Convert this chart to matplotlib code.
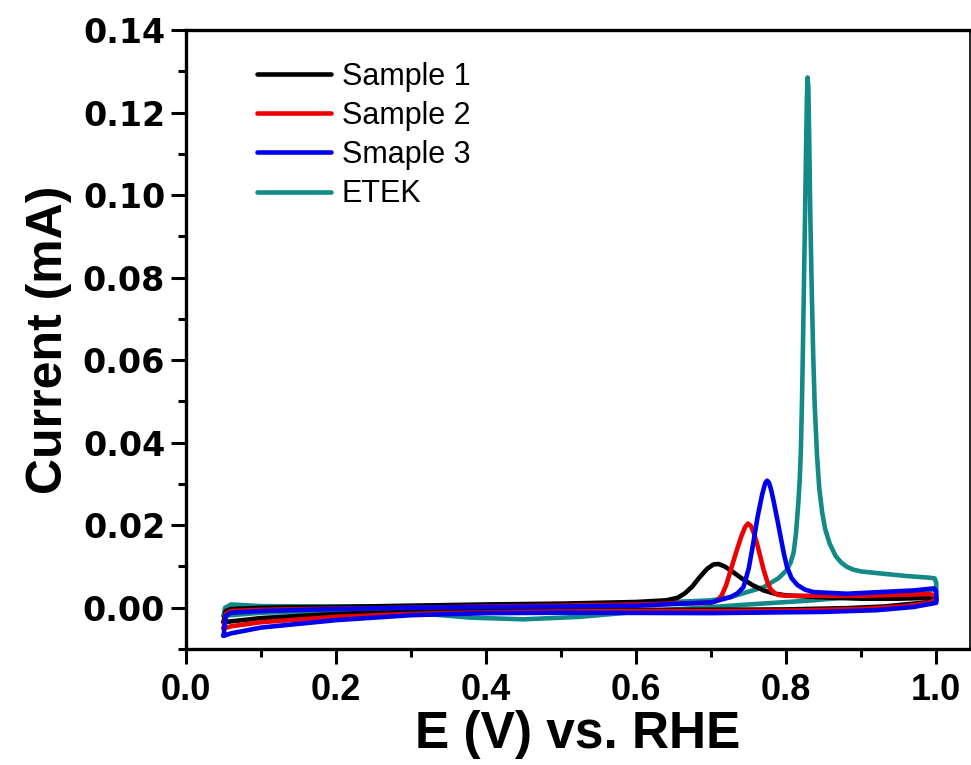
import matplotlib
matplotlib.use("Agg")
import matplotlib.pyplot as plt
from matplotlib.ticker import MultipleLocator

# Sample 1 (black): forward sweep then reverse sweep
s1_x_up = [0.05, 0.053, 0.06, 0.1, 0.2, 0.3, 0.4, 0.5, 0.6, 0.64, 0.655, 0.665, 0.675, 0.685,
           0.695, 0.703, 0.71, 0.718, 0.728, 0.74, 0.755, 0.77, 0.785, 0.8, 0.85, 0.9,
           0.95, 0.99, 1.0]
s1_y_up = [-0.0035, -0.0008, -0.0003, 0.0, 0.0002, 0.0005, 0.0008, 0.001, 0.0014, 0.0018,
           0.0024, 0.0035, 0.0052, 0.0075, 0.0095, 0.0105, 0.0106, 0.0100, 0.0088, 0.0072,
           0.0055, 0.0042, 0.0034, 0.0030, 0.0025, 0.0022, 0.0022, 0.0024, 0.0020]
s1_x_dn = [1.0, 0.99, 0.97, 0.93, 0.88, 0.8, 0.7, 0.6, 0.5, 0.4, 0.3, 0.2, 0.1, 0.06, 0.05]
s1_y_dn = [0.0018, 0.0013, 0.001, 0.0003, -0.0001, -0.0004, -0.0005, -0.0005, -0.0005,
           -0.0006, -0.0009, -0.0015, -0.0025, -0.0033, -0.0035]

# Sample 2 (red)
s2_x_up = [0.05, 0.053, 0.06, 0.1, 0.2, 0.3, 0.4, 0.5, 0.6, 0.7, 0.708, 0.714, 0.72, 0.726,
           0.733, 0.74, 0.745, 0.749, 0.753, 0.757, 0.761, 0.766, 0.77, 0.775, 0.779,
           0.785, 0.79, 0.8, 0.9, 0.99, 1.0]
s2_y_up = [-0.005, -0.0015, -0.0008, -0.0005, -0.0002, 0.0, 0.0003, 0.0005, 0.0008, 0.0012,
           0.0017, 0.003, 0.0055, 0.0091, 0.0133, 0.0172, 0.0195, 0.0204, 0.0198, 0.018,
           0.0156, 0.012, 0.0091, 0.0062, 0.0045, 0.0035, 0.0031, 0.0029, 0.0029, 0.0033,
           0.0030]
s2_x_dn = [1.0, 0.99, 0.96, 0.9, 0.8, 0.7, 0.6, 0.5, 0.4, 0.3, 0.2, 0.1, 0.06, 0.05]
s2_y_dn = [0.002, 0.0012, 0.0004, -0.0003, -0.0007, -0.0008, -0.0008, -0.0009, -0.0011,
           -0.0015, -0.0022, -0.0035, -0.0045, -0.005]

# Smaple 3 (blue)
s3_x_up = [0.05, 0.053, 0.06, 0.1, 0.2, 0.3, 0.4, 0.5, 0.6, 0.7, 0.726, 0.735, 0.743, 0.75,
           0.756, 0.762, 0.768, 0.772, 0.7745, 0.777, 0.78, 0.783, 0.788, 0.7925, 0.797,
           0.801, 0.807, 0.815, 0.825, 0.836, 0.881, 0.97, 0.997, 1.0]
s3_y_up = [-0.0068, -0.002, -0.0012, -0.0008, -0.0003, 0.0, 0.0002, 0.0003, 0.0005, 0.0013,
           0.0026, 0.0035, 0.005, 0.0095, 0.0156, 0.0222, 0.0275, 0.0302, 0.0308, 0.0303,
           0.0285, 0.026, 0.0215, 0.0172, 0.013, 0.0099, 0.0072, 0.0055, 0.0044, 0.0038,
           0.0034, 0.0042, 0.0047, 0.004]
s3_x_dn = [1.0, 0.97, 0.92, 0.85, 0.7, 0.5, 0.4, 0.3, 0.2, 0.1, 0.06, 0.05]
s3_y_dn = [0.0012, 0.0002, -0.0006, -0.001, -0.0013, -0.0012, -0.0013, -0.0018, -0.003,
           -0.0048, -0.0062, -0.0068]

# ETEK (teal)
et_x_up = [0.05, 0.052, 0.06, 0.08, 0.1, 0.2, 0.3, 0.4, 0.5, 0.6, 0.7, 0.726, 0.77, 0.79,
           0.80, 0.806, 0.81, 0.813, 0.816, 0.818, 0.8195, 0.821, 0.822, 0.8235, 0.825,
           0.8265, 0.8275, 0.8285, 0.8295, 0.8305, 0.832, 0.834, 0.836, 0.838, 0.841,
           0.844, 0.848, 0.852, 0.858, 0.866, 0.873, 0.881, 0.89, 0.90, 0.926, 0.96, 0.99,
           0.998, 1.0]
et_y_up = [-0.002, 0.0, 0.0008, 0.0006, 0.0004, 0.0003, 0.0004, 0.0006, 0.0008, 0.001,
           0.0018, 0.0026, 0.005, 0.0072, 0.009, 0.011, 0.0135, 0.018, 0.025, 0.031, 0.038,
           0.05, 0.06, 0.077, 0.094, 0.112, 0.123, 0.1285, 0.126, 0.115, 0.096, 0.077,
           0.061, 0.049, 0.037, 0.029, 0.023, 0.019, 0.0155, 0.0125, 0.011, 0.0099, 0.0092,
           0.0088, 0.0083, 0.0077, 0.0073, 0.0071, 0.006]
et_x_dn = [1.0, 0.97, 0.9, 0.836, 0.75, 0.703, 0.6, 0.525, 0.45, 0.38, 0.3, 0.2, 0.1,
           0.06, 0.05]
et_y_dn = [0.0045, 0.0038, 0.0028, 0.0018, 0.0008, 0.0002, -0.001, -0.0022, -0.0028,
           -0.0024, -0.0012, -0.0008, -0.0012, -0.0018, -0.002]

labels = ["Sample 1", "Sample 2", "Smaple 3", "ETEK"]
colors = ["black", "#ee0000", "#0000ee", "#128a87"]

curves = [
    (s1_x_up + s1_x_dn, s1_y_up + s1_y_dn),
    (s2_x_up + s2_x_dn, s2_y_up + s2_y_dn),
    (s3_x_up + s3_x_dn, s3_y_up + s3_y_dn),
    (et_x_up + et_x_dn, et_y_up + et_y_dn),
]
zorders = [3, 4, 5, 2]

fig = plt.figure(figsize=(9.71, 7.65), dpi=100)
ax = fig.add_axes([0.1916, 0.1516, 0.8074, 0.8092])

for (x, y), lab, c, z in zip(curves, labels, colors, zorders):
    ax.plot(x, y, color=c, lw=3.3, label=lab, zorder=z,
            solid_joinstyle="round", solid_capstyle="round")

ax.set_xlim(0, 1.045)
ax.set_ylim(-0.01, 0.14)
ax.xaxis.set_major_locator(MultipleLocator(0.2))
ax.xaxis.set_minor_locator(MultipleLocator(0.1))
ax.yaxis.set_major_locator(MultipleLocator(0.02))
ax.yaxis.set_minor_locator(MultipleLocator(0.01))
ax.set_xticks([0.0, 0.2, 0.4, 0.6, 0.8, 1.0])
ax.set_xticklabels(["0.0", "0.2", "0.4", "0.6", "0.8", "1.0"],
                   family="Liberation Sans", weight="bold", fontsize=26)
ax.set_yticks([0.0, 0.02, 0.04, 0.06, 0.08, 0.10, 0.12, 0.14])
ax.set_yticklabels(["0.00", "0.02", "0.04", "0.06", "0.08", "0.10", "0.12", "0.14"],
                   family="DejaVu Sans", weight="bold", fontsize=24)

ax.tick_params(which="major", direction="out", length=11, width=2.2, pad=4)
ax.tick_params(which="minor", direction="out", length=6, width=2.2)
ax.tick_params(axis="x", which="major", pad=6)

for side in ["left", "bottom", "top"]:
    ax.spines[side].set_linewidth(2.4)
ax.spines["right"].set_linewidth(1.2)

ax.set_xlabel("E (V) vs. RHE", family="Liberation Sans", weight="bold",
              fontsize=37, labelpad=2)
ax.set_ylabel("Current (mA)", family="Liberation Sans", weight="bold",
              fontsize=36, labelpad=8)

leg = ax.legend(loc="upper left", bbox_to_anchor=(0.056, 0.993), frameon=False,
                prop={"family": "Liberation Sans", "size": 22},
                handlelength=2.4, handletextpad=0.36, labelspacing=0.3)
for line in leg.get_lines():
    line.set_linewidth(3.3)

fig.savefig("out.png", dpi=100)
